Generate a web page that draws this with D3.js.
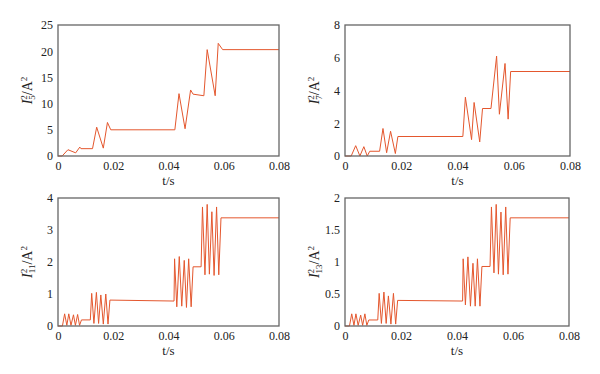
<!DOCTYPE html>
<html>
<head>
<meta charset="utf-8">
<script src="https://cdnjs.cloudflare.com/ajax/libs/d3/7.8.5/d3.min.js"></script>
<style>
  body { margin: 0; background: #fff; }
  svg text { font-family: "Liberation Serif", "DejaVu Serif", serif; fill: #222; }
</style>
</head>
<body>
<svg id="chart" width="600" height="374"></svg>
<script>
// time axis ticks shared by all panels
const xTicks = [0, 0.02, 0.04, 0.06, 0.08];

// I5^2 panel
const t5 = [0, 0.0015, 0.0036, 0.0064, 0.0079, 0.0083, 0.0125, 0.014, 0.0164, 0.0179, 0.0191, 0.0423, 0.0438, 0.046, 0.048, 0.0489, 0.0528, 0.054, 0.0569, 0.058, 0.0596, 0.08];
const v5 = [0, 0, 1.2, 0.6, 1.7, 1.4, 1.4, 5.5, 1.5, 6.4, 5.0, 5.0, 11.9, 5.2, 12.6, 11.8, 11.5, 20.3, 11.5, 21.5, 20.3, 20.3];
const yTicks5 = [0, 5, 10, 15, 20, 25];

// I7^2 panel
const t7 = [0, 0.0022, 0.0038, 0.0053, 0.0067, 0.0079, 0.0088, 0.0123, 0.0135, 0.0148, 0.0162, 0.0179, 0.0188, 0.0419, 0.0428, 0.045, 0.0459, 0.0479, 0.0489, 0.0519, 0.0539, 0.0549, 0.0569, 0.058, 0.0589, 0.08];
const v7 = [0, 0, 0.63, 0, 0.57, 0, 0.29, 0.29, 1.68, 0.2, 1.51, 0.15, 1.19, 1.19, 3.59, 1.0, 3.27, 0.86, 2.9, 2.9, 6.1, 2.55, 5.65, 2.25, 5.16, 5.16];
const yTicks7 = [0, 2, 4, 6, 8];

// I11^2 and I13^2 panels share the same switching instants
const tHigh = [0, 0.0016, 0.0024, 0.0032, 0.0039, 0.0047, 0.0056, 0.0063, 0.0071, 0.0078, 0.0085, 0.0117, 0.0122, 0.013, 0.0139, 0.0147, 0.0155, 0.0164, 0.0173, 0.0181, 0.0188, 0.042, 0.0422, 0.043, 0.0439, 0.0448, 0.0457, 0.0465, 0.0473, 0.0482, 0.0489, 0.0518, 0.0523, 0.0532, 0.054, 0.0548, 0.0557, 0.0565, 0.0574, 0.0582, 0.059, 0.08];
const v11 = [0, 0, 0.38, 0.02, 0.38, 0.02, 0.35, 0.02, 0.36, 0.02, 0.19, 0.19, 1.02, 0.08, 1.05, 0.08, 0.97, 0.06, 1.0, 0.06, 0.81, 0.78, 2.1, 0.6, 2.17, 0.62, 2.05, 0.58, 2.1, 0.6, 1.85, 1.85, 3.72, 1.6, 3.8, 1.62, 3.57, 1.58, 3.72, 1.6, 3.38, 3.38];
const yTicks11 = [0, 1, 2, 3, 4];
const v13 = [0, 0, 0.19, 0.01, 0.19, 0.01, 0.17, 0.01, 0.19, 0.01, 0.094, 0.094, 0.51, 0.04, 0.53, 0.04, 0.47, 0.03, 0.51, 0.03, 0.40, 0.39, 1.05, 0.33, 1.08, 0.31, 0.98, 0.31, 1.05, 0.31, 0.93, 0.93, 1.86, 0.83, 1.9, 0.81, 1.78, 0.8, 1.86, 0.81, 1.69, 1.69];
const yTicks13 = [0, 0.5, 1, 1.5, 2];

const svg = d3.select("#chart");
const FONT = "Liberation Serif, DejaVu Serif, serif";

function panel(opts) {
    const {left, right, top, bottom, times, values, yTicks, sub} = opts;
    const g = svg.append("g");

    const x = d3.scaleLinear().domain([0, 0.08]).range([left, right]);
    const y = d3.scaleLinear().domain([0, d3.max(yTicks)]).range([bottom, top]);

    // x axis labels
    const xa = g.append("g")
        .attr("transform", `translate(0,${bottom})`)
        .call(d3.axisBottom(x).tickValues(xTicks).tickSize(0).tickPadding(5).tickFormat(d => d === 0 ? "0" : d3.format(".2f")(d)))
        .attr("font-family", FONT).attr("font-size", 12);
    xa.select(".domain").remove();
    xa.selectAll("text").attr("fill", "#222");

    // y axis labels
    const ya = g.append("g")
        .attr("transform", `translate(${left},0)`)
        .call(d3.axisLeft(y).tickValues(yTicks).tickSize(0).tickPadding(5).tickFormat(d3.format("~g")))
        .attr("font-family", FONT).attr("font-size", 12);
    ya.select(".domain").remove();
    ya.selectAll("text").attr("fill", "#222");

    // the line
    const pts = times.map((t, i) => ({t: t, v: values[i]}));
    g.append("path")
        .datum(pts)
        .attr("fill", "none")
        .attr("stroke", "#e4572e")
        .attr("stroke-width", 1)
        .attr("d", d3.line().x(d => x(d.t)).y(d => y(d.v)));

    // frame
    g.append("rect")
        .attr("x", left).attr("y", top)
        .attr("width", right - left).attr("height", bottom - top)
        .attr("fill", "none").attr("stroke", "#666").attr("stroke-width", 1.3);

    // x title
    g.append("text")
        .attr("x", (left + right) / 2).attr("y", bottom + 29)
        .attr("text-anchor", "middle")
        .style("font-size", "13px")
        .text("t/s");

    // y title: I with stacked 2 over the harmonic order
    const lab = g.append("text")
        .attr("transform", `translate(${left - 26},${(top + bottom) / 2}) rotate(-90)`)
        .attr("text-anchor", "middle")
        .style("font-size", "14px");
    lab.append("tspan").style("font-style", "italic").text("I");
    lab.append("tspan").attr("dy", -5).style("font-size", "9px").text("2");
    lab.append("tspan").attr("dx", -4.5).attr("dy", 8).style("font-size", "9px").text(sub);
    lab.append("tspan").attr("dy", -3).text("/A");
    lab.append("tspan").attr("dy", -5).style("font-size", "9px").text("2");
}

panel({left: 58, right: 279, top: 25, bottom: 156, times: t5, values: v5, yTicks: yTicks5, sub: "5"});
panel({left: 345, right: 570, top: 25, bottom: 156, times: t7, values: v7, yTicks: yTicks7, sub: "7"});
panel({left: 58, right: 279, top: 198, bottom: 326, times: tHigh, values: v11, yTicks: yTicks11, sub: "11"});
panel({left: 345, right: 569, top: 198, bottom: 326, times: tHigh, values: v13, yTicks: yTicks13, sub: "13"});
</script>
</body>
</html>
